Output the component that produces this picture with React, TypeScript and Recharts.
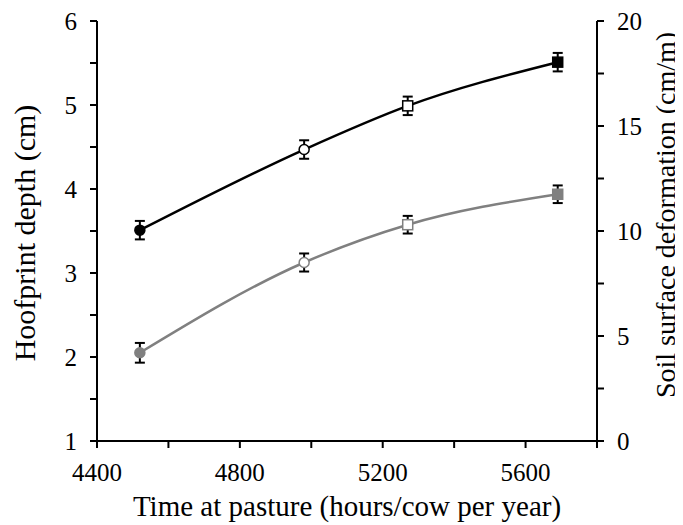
import { LineChart, Line, XAxis, YAxis, ErrorBar } from 'recharts';

// values
const hours = [4520, 4980, 5270, 5690];
const hoofprintDepth = [3.51, 4.47, 4.99, 5.51];
const hoofprintErr = [0.11, 0.11, 0.11, 0.11];
const soilDeformation = [4.2, 8.5, 10.3, 11.75];
const soilErr = [0.47, 0.43, 0.42, 0.42];

const xTicks = [4400, 4600, 4800, 5000, 5200, 5400, 5600, 5800];
const xLabelled = [4400, 4800, 5200, 5600];
const leftTicks = [1, 1.5, 2, 2.5, 3, 3.5, 4, 4.5, 5, 5.5, 6];
const rightTicks = [0, 2.5, 5, 7.5, 10, 12.5, 15, 17.5, 20];

const markerShapes = ['filledCircle', 'openCircle', 'openSquare', 'filledSquare'];

const data = hours.map((h, i) => ({
  hours: h,
  depth: hoofprintDepth[i],
  depthErr: hoofprintErr[i],
  soil: soilDeformation[i],
  soilErr: soilErr[i],
}));

const FONT = '"Liberation Serif", "Times New Roman", serif';
const tickStyle = { fill: '#000', fontSize: 25, fontFamily: FONT };

const makeDot = (color: string) => (props: any) => {
  const { cx, cy, index } = props;
  const shape = markerShapes[index];
  const fill = shape.startsWith('filled') ? color : '#fff';
  if (shape.endsWith('Circle')) {
    return <circle key={`d${index}`} cx={cx} cy={cy} r={5} fill={fill} stroke={color} strokeWidth={1.5} />;
  }
  return <rect key={`d${index}`} x={cx - 5} y={cy - 5} width={10} height={10} fill={fill} stroke={color} strokeWidth={1.5} />;
};

const rotatedLabel = (text: string, size: number, dxFromAxis: number, dyFromCenter: number) => (props: any) => {
  const { viewBox } = props;
  const x = viewBox.x + dxFromAxis;
  const y = viewBox.y + viewBox.height / 2 + dyFromCenter;
  return (
    <text
      x={x}
      y={y}
      transform={`rotate(-90 ${x} ${y})`}
      textAnchor="middle"
      dominantBaseline="central"
      fill="#000"
      fontSize={size}
      fontFamily={FONT}
    >
      {text}
    </text>
  );
};

export default function App() {
  return (
    <div style={{ marginLeft: -8, marginTop: -8, width: 683, height: 525, background: '#fff' }}>
      <LineChart
        width={683}
        height={525}
        data={data}
        margin={{ top: 21, right: 0, bottom: 0, left: 0 }}
        style={{ fontFamily: FONT }}
      >
        <XAxis
          dataKey="hours"
          type="number"
          domain={[4400, 5800]}
          ticks={xTicks}
          tickFormatter={(v) => (xLabelled.includes(v) ? String(v) : '')}
          height={84}
          tickSize={7}
          tickMargin={15}
          tick={tickStyle}
          axisLine={{ stroke: '#000', strokeWidth: 2 }}
          tickLine={{ stroke: '#000', strokeWidth: 2 }}
          interval={0}
          label={{
            value: 'Time at pasture (hours/cow per year)',
            position: 'insideBottom',
            offset: 9,
            fill: '#000',
            fontSize: 29,
            fontFamily: FONT,
          }}
        />
        <YAxis
          yAxisId="left"
          domain={[1, 6]}
          ticks={leftTicks}
          tickFormatter={(v) => (Number.isInteger(v) ? String(v) : '')}
          width={97}
          tickSize={7}
          tickMargin={13}
          tick={tickStyle}
          axisLine={{ stroke: '#000', strokeWidth: 2 }}
          tickLine={{ stroke: '#000', strokeWidth: 2 }}
          interval={0}
          label={{ content: rotatedLabel('Hoofprint depth (cm)', 30, 24, 2) }}
        />
        <YAxis
          yAxisId="right"
          orientation="right"
          domain={[0, 20]}
          ticks={rightTicks}
          tickFormatter={(v) => (v % 5 === 0 ? String(v) : '')}
          width={86}
          tickSize={7}
          tickMargin={13}
          tick={tickStyle}
          axisLine={{ stroke: '#000', strokeWidth: 2 }}
          tickLine={{ stroke: '#000', strokeWidth: 2 }}
          interval={0}
          label={{ content: rotatedLabel('Soil surface deformation (cm/m)', 28, 68, -16) }}
        />
        <Line
          yAxisId="left"
          type="monotoneX"
          dataKey="depth"
          stroke="#000"
          strokeWidth={2.5}
          dot={makeDot('#000')}
          activeDot={false}
          isAnimationActive={false}
        >
          <ErrorBar dataKey="depthErr" direction="y" width={5} stroke="#000" strokeWidth={2} />
        </Line>
        <Line
          yAxisId="right"
          type="monotoneX"
          dataKey="soil"
          stroke="#808080"
          strokeWidth={2.5}
          dot={makeDot('#808080')}
          activeDot={false}
          isAnimationActive={false}
        >
          <ErrorBar dataKey="soilErr" direction="y" width={5} stroke="#000" strokeWidth={2} />
        </Line>
      </LineChart>
    </div>
  );
}
